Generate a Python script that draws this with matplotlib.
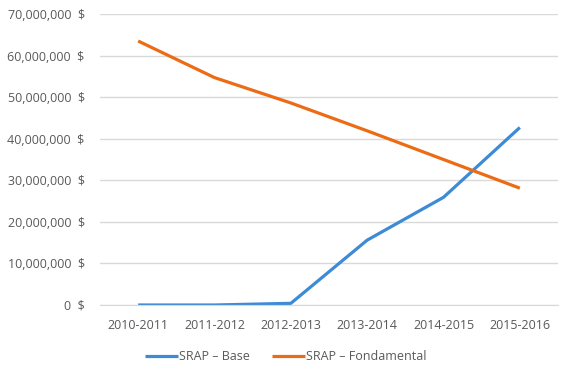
import matplotlib
matplotlib.use("Agg")
import matplotlib.pyplot as plt
from matplotlib.ticker import FuncFormatter

# donnees
annees = ['2010-2011', '2011-2012', '2012-2013', '2013-2014', '2014-2015', '2015-2016']
srap_base = [0, 0, 400000, 15600000, 25900000, 42700000]
srap_fondamental = [63500000, 54700000, 48600000, 41900000, 35000000, 28100000]

plt.rcParams['font.family'] = ['Open Sans', 'DejaVu Sans']

fig = plt.figure(figsize=(5.62, 3.70), dpi=100)
ax = fig.add_axes([100 / 562, 65 / 370, 458 / 562, 291 / 370])

x = list(range(len(annees)))
ax.plot(x, srap_base, color='#3d8bd6', linewidth=2.3, label='SRAP – Base',
        solid_capstyle='butt', solid_joinstyle='round')
ax.plot(x, srap_fondamental, color='#ec6b15', linewidth=2.3, label='SRAP – Fondamental',
        solid_capstyle='butt', solid_joinstyle='round')

ax.set_xlim(-0.5, len(annees) - 0.5)
ax.set_ylim(0, 70000000)
ax.set_yticks(range(0, 70000001, 10000000))
ax.yaxis.set_major_formatter(FuncFormatter(lambda v, p: '{:,.0f}  $'.format(v)))
ax.set_xticks(x)
ax.set_xticklabels(annees)

ax.grid(axis='y', color='#d9d9d9', linewidth=1)
ax.set_axisbelow(True)
for s in ['top', 'right', 'left']:
    ax.spines[s].set_visible(False)
ax.spines['bottom'].set_color('#d9d9d9')
ax.tick_params(axis='both', length=0, labelsize=9, colors='#595959')
ax.tick_params(axis='y', pad=11)
ax.tick_params(axis='x', pad=10)

leg = fig.legend(loc='center', bbox_to_anchor=(0.5 + 5 / 562, 1 - 357 / 370), ncol=2, frameon=False,
                 fontsize=9, handlelength=2.6, handletextpad=0.15, columnspacing=1.75)
for t in leg.get_texts():
    t.set_color('#595959')

fig.savefig('out.png', dpi=100)
